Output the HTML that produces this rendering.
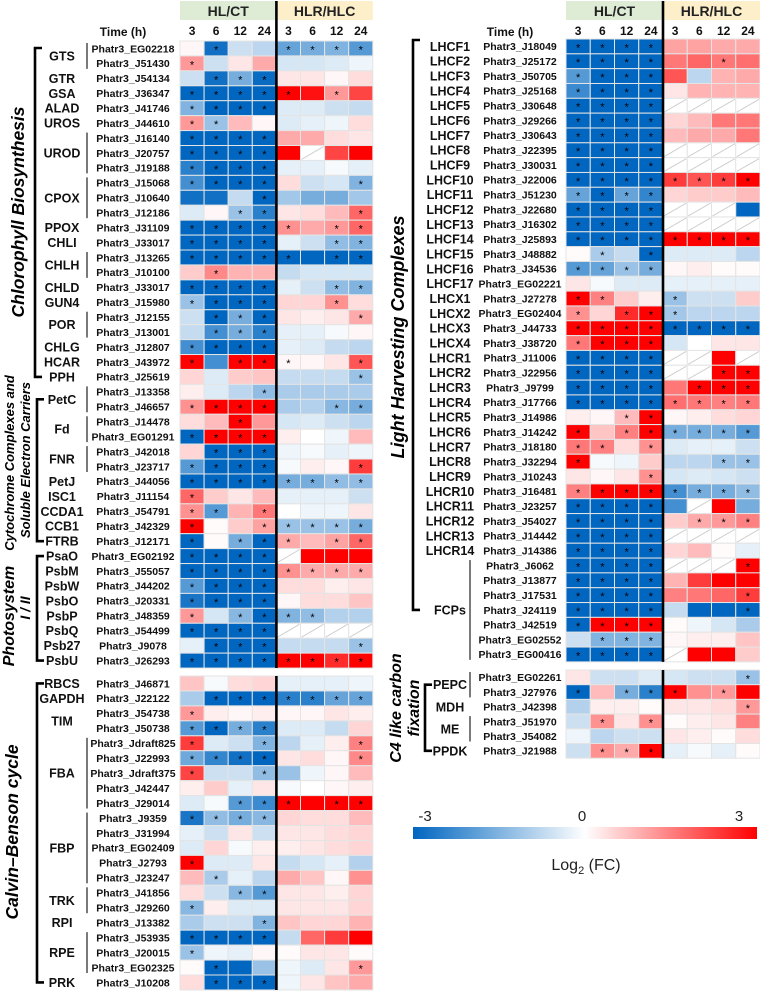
<!DOCTYPE html>
<html><head><meta charset="utf-8"><style>
html,body{margin:0;padding:0;background:#fff;}
svg{display:block;font-family:"Liberation Sans",Arial,sans-serif;}
</style></head><body>
<svg id="chart" width="760" height="991" viewBox="0 0 760 991" xmlns="http://www.w3.org/2000/svg"></svg>
<script>
const timeLabels = ["3","6","12","24"];
const conditionLabels = ["HL/CT","HLR/HLC"];
const leftGenes = ["Phatr3_EG02218","Phatr3_J51430","Phatr3_J54134","Phatr3_J36347","Phatr3_J41746","Phatr3_J44610","Phatr3_J16140","Phatr3_J20757","Phatr3_J19188","Phatr3_J15068","Phatr3_J10640","Phatr3_J12186","Phatr3_J31109","Phatr3_J33017","Phatr3_J13265","Phatr3_J10100","Phatr3_J33017","Phatr3_J15980","Phatr3_J12155","Phatr3_J13001","Phatr3_J12807","Phatr3_J43972","Phatr3_J25619","Phatr3_J13358","Phatr3_J46657","Phatr3_J14478","Phatr3_EG01291","Phatr3_J42018","Phatr3_J23717","Phatr3_J44056","Phatr3_J11154","Phatr3_J54791","Phatr3_J42329","Phatr3_J12171","Phatr3_EG02192","Phatr3_J55057","Phatr3_J44202","Phatr3_J20331","Phatr3_J48359","Phatr3_J54499","Phatr3_J9078","Phatr3_J26293","Phatr3_J46871","Phatr3_J22122","Phatr3_J54738","Phatr3_J50738","Phatr3_Jdraft825","Phatr3_J22993","Phatr3_Jdraft375","Phatr3_J42447","Phatr3_J29014","Phatr3_J9359","Phatr3_J31994","Phatr3_EG02409","Phatr3_J2793","Phatr3_J23247","Phatr3_J41856","Phatr3_J29260","Phatr3_J13382","Phatr3_J53935","Phatr3_J20015","Phatr3_EG02325","Phatr3_J10208"];
const leftValues = [
[0.1,-2.8,-0.6,-0.8,-1.8,-1.6,-1.5,-2.0],[1.2,-0.6,0.3,1.0,-0.5,-0.5,-0.4,-0.2],[-0.6,-2.8,-1.6,-2.9,0.3,0.3,0.1,0.4],[-3,-3,-3,-3,3,2.8,1.2,2.2],
[-1.5,-3,-3,-3,-0.4,-0.4,-0.6,-0.7],[1.2,-1.2,0.8,0.1,-0.4,-0.3,-0.2,0.4],[-3,-3,-3,-3,1.0,1.0,0.4,0.3],[-3,-3,-3,-3,3,null,2.2,3],
[-2.5,-3,-3,-3,-0.3,-0.3,-0.1,-0.3],[-2.2,-3,-3,-3,0.4,-0.6,-0.5,-1.5],[-2.8,-2.8,-0.7,-3,-1.1,-1.6,-1.6,-1.1],[-0.4,0.1,-1.2,-2.5,0.3,0.4,0.8,1.8],
[-3,-3,-3,-3,1.3,1.0,1.2,1.8],[-3,-3,-3,-3,-0.3,-0.6,-1.3,-1.5],[-3,-3,-3,-3,-3,-3,-3,-3],[0.6,1.4,0.9,0.9,-0.7,-0.5,-0.5,-0.5],
[-3,-3,-3,-3,-0.3,-0.6,-1.3,-1.5],[-1.2,-3,-3,-3,0.5,0.5,1.3,0.4],[-0.6,-3,-1.6,-3,0.3,0.2,0.3,1.0],[-0.7,-2.2,-1.6,-2.5,-0.3,-0.3,-0.1,0.1],
[-2.2,-3,-3,-3,-0.3,-0.4,-0.7,-0.8],[3,-2.2,3,3,0.1,0.1,0.3,2.0],[0.5,-0.4,0.6,0.7,-0.7,-0.7,-0.7,-1.2],[0.2,-0.4,-0.8,-1.3,-1.0,-1.0,-1.0,-1.0],
[1.3,3,3,3,-1.0,-0.9,-1.4,-1.6],[0.4,0.8,3,1.2,-0.5,-0.4,-0.6,-0.8],[-3,3,3,3,0.2,0,-0.2,0.8],[0.5,-3,-3,-3,-0.2,-0.1,-0.3,-0.2],
[-2.0,-3,-3,-3,-0.1,0.2,0.1,2.3],[-3,-3,-3,-3,-1.6,-1.6,-1.3,-1.3],[1.8,0.6,0.3,0.8,-0.3,-0.3,-0.3,-0.6],[1.3,-2.0,0.9,1.6,0,-0.2,-0.2,0.3],
[3,0.05,0.6,1.1,-1.2,-1.2,-1.2,-1.6],[-3,0.05,-1.6,-3,1.0,0.8,1.1,1.8],[-3,-3,-3,-3,null,3,3,3],[-3,-3,-3,-3,1.3,1.0,1.0,1.0],
[-2.0,-3,-3,-3,0.4,0.4,0.2,0.3],[-2.7,-3,-3,-3,0.1,0.4,0.4,0.7],[1.2,-0.5,-1.4,-3,-1.5,-1.3,-0.9,-0.9],[-3,-3,-3,-3,null,null,null,null],
[-0.3,-3,-3,-3,-0.7,-0.7,-0.7,-1.2],[-3,-3,-3,-3,3,3,2.5,3],[0.7,-0.1,0.4,0.5,-0.3,-0.3,-0.3,-0.2],[-1.0,-3,-3,-3,-2.5,-2.5,-1.8,-1.8],
[1.2,0.2,0.1,0.2,0.1,0.1,0.3,0.2],[-2.0,-3,-1.6,-2.5,-0.4,-0.4,-0.7,0.5],[2.3,-0.4,-0.6,-1.5,-0.8,-0.3,0.2,1.5],[-1.7,-2.4,-2.8,-3,0.3,0.4,0.1,1.4],
[2.2,-0.6,-0.6,-1.3,-1.2,-0.2,0.1,0.8],[0.2,0.6,-0.3,0.3,-0.1,0,0.1,0.2],[-0.4,-0.1,-2.0,-2.3,3,3,3,3],[-2.7,-1.3,-1.6,-1.4,0.5,0.4,0.4,0.8],
[-0.3,-0.6,0.3,-0.6,0.3,0.3,0.4,0.5],[-0.4,0.5,-0.1,0.2,0.2,0.3,0.4,0.5],[3,-0.4,-0.4,0.3,-0.7,-0.5,-0.3,-0.9],[0.8,-1.0,-0.3,-0.8,1.0,0.7,0.1,1.3],
[0.4,-0.6,-1.4,-2.0,0.3,0.3,0.2,0.5],[-1.4,0.2,-0.4,-0.4,0.3,0.3,0.3,0.5],[-1.0,-0.6,-0.6,-1.5,0.7,0.5,0.5,0.9],[-3,-3,-3,-3,-0.7,1.8,2.3,3],
[-1.2,-0.2,-0.3,0.1,0.05,0.3,0.3,0.05],[0.05,-3,-3,-1.2,-0.2,-0.4,0.3,1.2],[0.4,-3,-3,-3,-0.2,0.3,0.7,1.0]];
const leftSig = ["01001111","10000000","01110000","11111010","11110000","11000000","11110000","11110000","11110000","11110001","00010000","00110001","11111011","11110011","11111011","01000000","11110011","11110010","01110001","01110000","11110000","10111001","00000001","00010000","11110011","00100000","11110000","01110000","11110001","11111111","10000000","11010000","10011111","10111011","11110000","11111111","11110000","11110000","10111100","11110000","01110001","11111111","00000000","01111111","10000000","11110000","10010001","11110001","10010000","00000000","00111011","11110000","00000000","00000000","10000000","01000000","00110000","10000000","00010000","11110000","10000000","01000001","01110000"];
const leftGroups = [["GTS",0,1],["GTR",2,2],["GSA",3,3],["ALAD",4,4],["UROS",5,5],["UROD",6,8],["CPOX",9,11],["PPOX",12,12],["CHLI",13,13],["CHLH",14,15],["CHLD",16,16],["GUN4",17,17],["POR",18,19],["CHLG",20,20],["HCAR",21,21],["PPH",22,22],["PetC",23,24],["Fd",25,26],["FNR",27,28],["PetJ",29,29],["ISC1",30,30],["CCDA1",31,31],["CCB1",32,32],["FTRB",33,33],["PsaO",34,34],["PsbM",35,35],["PsbW",36,36],["PsbO",37,37],["PsbP",38,38],["PsbQ",39,39],["Psb27",40,40],["PsbU",41,41],["RBCS",42,42],["GAPDH",43,43],["TIM",44,45],["FBA",46,50],["FBP",51,55],["TRK",56,57],["RPI",58,58],["RPE",59,61],["PRK",62,62]];

const rightGenes = ["Phatr3_J18049","Phatr3_J25172","Phatr3_J50705","Phatr3_J25168","Phatr3_J30648","Phatr3_J29266","Phatr3_J30643","Phatr3_J22395","Phatr3_J30031","Phatr3_J22006","Phatr3_J51230","Phatr3_J22680","Phatr3_J16302","Phatr3_J25893","Phatr3_J48882","Phatr3_J34536","Phatr3_EG02221","Phatr3_J27278","Phatr3_EG02404","Phatr3_J44733","Phatr3_J38720","Phatr3_J11006","Phatr3_J22956","Phatr3_J9799","Phatr3_J17766","Phatr3_J14986","Phatr3_J14242","Phatr3_J18180","Phatr3_J32294","Phatr3_J10243","Phatr3_J16481","Phatr3_J23257","Phatr3_J54027","Phatr3_J14442","Phatr3_J14386","Phatr3_J6062","Phatr3_J13877","Phatr3_J17531","Phatr3_J24119","Phatr3_J42519","Phatr3_EG02552","Phatr3_EG00416","Phatr3_EG02261","Phatr3_J27976","Phatr3_J42398","Phatr3_J51970","Phatr3_J54082","Phatr3_J21988"];
const rightValues = [
[-3,-3,-3,-3,1.1,1.1,1.0,1.0],[-3,-3,-3,-3,1.6,1.8,1.6,1.7],[-2.0,-3,-3,-3,2.0,-0.8,0.9,1.0],[-2.3,-3,-3,-3,0.3,0.9,0.9,0.9],
[-3,-3,-3,-3,null,null,null,null],[-3,-3,-3,-3,0.5,0.8,1.6,1.6],[-3,-3,-3,-3,0.8,1.0,1.0,1.6],[-3,-3,-3,-3,null,null,null,null],
[-3,-3,-3,-3,null,null,null,null],[-3,-3,-3,-3,2.3,2.0,2.3,3],[-1.8,-3,-1.8,-2.4,0.5,0.6,0.6,0.8],[-3,-3,-3,-3,null,null,null,-3],
[-3,-3,-3,-3,null,null,null,null],[-3,-3,-3,-3,3,3,3,3],[0.05,-1.0,-0.7,-3,-0.4,-0.4,-0.4,-0.8],[-2.0,-1.8,-1.2,-1.6,0.1,0.2,0.05,0.05],
[0.3,-0.1,-0.4,-0.4,-0.3,-0.3,-0.3,-0.3],[3,1.5,0.6,0.2,-1.2,-0.6,-0.6,0.6],[1.3,0.5,2.5,3,-1.1,-0.8,-0.8,-0.8],[3,3,3,3,-3,-3,-3,-3],
[1.6,3,3,3,-0.5,0,0.3,0.3],[-3,-3,-3,-3,null,null,3,null],[-3,-3,-3,-3,null,null,3,3],[-3,-3,-3,-3,1.6,3,3,3],
[-3,-3,-3,-3,1.7,1.6,1.5,1.6],[0.2,0.1,0.8,3,0.1,0.2,0.4,0.5],[3,0.7,1.5,3,-1.6,-1.6,-1.6,-2.0],[1.6,1.5,0.4,1.3,-0.4,-0.3,-0.3,-0.6],
[3,-0.1,-0.2,0.6,-0.8,-0.8,-1.2,-1.2],[0.3,0.1,0.3,1.3,-0.5,-0.4,-0.5,-0.6],[1.5,3,3,3,-2.2,-1.6,-1.6,-1.3],[-3,-3,-3,-3,-2.2,null,3,-1.6],
[-3,-3,-3,-3,0.6,1.0,1.2,1.5],[-3,-3,-3,-3,null,null,null,null],[-3,-3,-3,-3,0.5,0.8,0.05,-0.3],[-3,-3,-3,-3,null,null,null,3],
[-3,-3,-3,-3,0.9,2.3,3,3],[-3,-3,-3,-3,1.5,1.6,1.8,2.3],[-3,-3,-3,-3,-0.7,-3,-3,-3],[-3,3,3,3,0.05,-0.2,-0.5,-1.0],
[-0.6,-1.5,-1.5,-1.5,0.1,0.2,0.2,0.7],[-3,-3,-3,-3,null,3,3,0.6],
[0.3,-0.6,-0.6,-0.4,-0.5,-0.6,-0.6,-1.2],[-3,0.8,-1.6,-2.5,3,1.3,1.2,3],[-0.9,0.2,0.2,0.05,0.3,0.3,0.4,1.2],[-0.6,1.3,0.3,1.3,0.05,0.2,0.3,1.5],[-0.2,-0.8,-0.6,-0.6,0.3,0.2,0.05,0.4],[-0.6,1.3,1.0,3,-0.3,-0.1,-0.3,0.05]];
const rightSig = ["11110000","11110010","11110000","11110000","11110000","11110000","11110000","11110000","11110000","11111111","11110000","11110000","11110000","11111111","01010000","11110000","00000000","11001000","10111000","11111111","11110000","11110000","11110011","11110111","11111111","00110000","10111111","11010000","10000011","00010000","11111111","11110000","11110111","11110000","11110000","11110001","11110000","11110001","11110001","11110000","01110000","11110000","00000001","10111010","00000001","01010000","00000000","01110000"];
const rightGroups = [["LHCF1",0,0],["LHCF2",1,1],["LHCF3",2,2],["LHCF4",3,3],["LHCF5",4,4],["LHCF6",5,5],["LHCF7",6,6],["LHCF8",7,7],["LHCF9",8,8],["LHCF10",9,9],["LHCF11",10,10],["LHCF12",11,11],["LHCF13",12,12],["LHCF14",13,13],["LHCF15",14,14],["LHCF16",15,15],["LHCF17",16,16],["LHCX1",17,17],["LHCX2",18,18],["LHCX3",19,19],["LHCX4",20,20],["LHCR1",21,21],["LHCR2",22,22],["LHCR3",23,23],["LHCR4",24,24],["LHCR5",25,25],["LHCR6",26,26],["LHCR7",27,27],["LHCR8",28,28],["LHCR9",29,29],["LHCR10",30,30],["LHCR11",31,31],["LHCR12",32,32],["LHCR13",33,33],["LHCR14",34,34],["FCPs",35,41],["PEPC",42,43],["MDH",44,44],["ME",45,46],["PPDK",47,47]];
const legendTicks = [-3,0,3];

const NS="http://www.w3.org/2000/svg";
const svg=document.getElementById("chart");
function mk(tag,attrs,parent){const e=document.createElementNS(NS,tag);for(const k in attrs)e.setAttribute(k,attrs[k]);(parent||svg).appendChild(e);return e;}
function color(v){
  const t=Math.min(Math.abs(v),3)/3;
  if(v<0){return `rgb(${Math.round(255-255*t)},${Math.round(255-153*t)},${Math.round(255-63*t)})`;}
  return `rgb(255,${Math.round(255-255*t)},${Math.round(255-255*t)})`;
}
const L={x0:180,cw:24.1,y0:41,h:14.93,y1:676,h1:14.95,split:42,gene:133,grp:62,line:87};
const R={x0:566,cw:24.25,y0:39,h:14.83,y1:670,h1:14.7,split:42,gene:520,grp:450,line:470};
function rowY(P,i){return i<P.split?P.y0+i*P.h:P.y1+(i-P.split)*P.h1;}
function rowH(P,i){return i<P.split?P.h:P.h1;}
function colX(P,j){return P.x0+j*P.cw;}

function drawPanel(P,genes,values,sig,groups,side){
  const g=mk("g",{});
  
  
  const hb1=mk("rect",{x:colX(P,0),y:1,width:P.cw*4,height:19,fill:"#deecd6"},g);
  
  
  const hb2=mk("rect",{x:colX(P,4),y:1,width:P.cw*4,height:19,fill:"#fdefc9"},g);
  
  
  conditionLabels.forEach((c,k)=>{
    const t=mk("text",{x:colX(P,k*4)+P.cw*2,y:16,"text-anchor":"middle","font-size":"14","font-weight":"bold",fill:"#222"},g);
    t.textContent=c;
    
    
  });
  for(let j=0;j<8;j++){
    const t=mk("text",{x:colX(P,j)+P.cw/2,y:35,"text-anchor":"middle","font-size":"12","font-weight":"bold",fill:"#111"},g);
    t.textContent=timeLabels[j%4];
    
    
  }
  const th=mk("text",{x:P.gene-10,y:36,"text-anchor":"middle","font-size":"12","font-weight":"bold",fill:"#111"},g);
  th.textContent="Time (h)";
  
  
  genes.forEach((gn,i)=>{
    const y=rowY(P,i),h=rowH(P,i);
    const t=mk("text",{x:P.gene,y:y+h/2+3.8,"text-anchor":"middle","font-size":"10.5","font-weight":"bold",fill:"#111"},g);
    t.textContent=gn;
    
    
    for(let j=0;j<8;j++){
      const v=values[i][j];const x=colX(P,j);
      const r=mk("rect",{x:x,y:y,width:P.cw,height:h,fill:v===null?"#ffffff":color(v),stroke:"#e4e4e4","stroke-width":"1"},g);
      
      
      if(v===null){
        const d=mk("line",{x1:x+1,y1:y+h-1,x2:x+P.cw-1,y2:y+1,stroke:"#cfcfcf","stroke-width":"1"},g);
        
        
      }
      if(sig[i][j]==="1"){
        const s=mk("text",{x:x+P.cw/2,y:y+h/2+5,"text-anchor":"middle","font-size":"11",fill:"#000"},g);
        s.textContent="*";
        
        
      }
    }
  });
  const last=genes.length-1;
  const d1=mk("line",{x1:colX(P,4),y1:1,x2:colX(P,4),y2:rowY(P,P.split-1)+P.h,stroke:"#000","stroke-width":"2.6"},g);
  
  
  const d2=mk("line",{x1:colX(P,4),y1:P.y1,x2:colX(P,4),y2:rowY(P,last)+P.h1,stroke:"#000","stroke-width":"2.6"},g);
  
  
  groups.forEach(gr=>{
    const [lab,a,b]=gr;
    const yc=(rowY(P,a)+rowY(P,b)+rowH(P,b))/2;
    const t=mk("text",{x:P.grp,y:yc+4.5,"text-anchor":"middle","font-size":"12.5","font-weight":"bold",fill:"#111"},g);
    t.textContent=lab;
    
    
    if(b>a && lab!=="TIM"){
      const ln=mk("line",{x1:P.line,y1:rowY(P,a)+2,x2:P.line,y2:rowY(P,b)+rowH(P,b)-2,stroke:"#333","stroke-width":"1.3"},g);
      
      
    }
  });
}
drawPanel(L,leftGenes,leftValues,leftSig,leftGroups,"left");
drawPanel(R,rightGenes,rightValues,rightSig,rightGroups,"right");

function center(P,groups,idx){const gr=groups[idx];return (rowY(P,gr[1])+rowY(P,gr[2])+rowH(P,gr[2]))/2;}
function bracket(x,y1,y2,name){
  const p=mk("path",{d:`M${x+7},${y1} H${x} V${y2} H${x+7}`,fill:"none",stroke:"#000","stroke-width":"2.6"});
  
  
}
function vlabel(x,y,txt,size,name){
  const t=mk("text",{x:0,y:0,transform:`translate(${x},${y}) rotate(-90)`,"text-anchor":"middle","font-size":size,"font-weight":"bold","font-style":"italic",fill:"#000"});
  t.textContent=txt;
  
  
  return t;
}
bracket(35,48,center(L,leftGroups,15),"chlorophyll-bracket");
bracket(37,center(L,leftGroups,16),center(L,leftGroups,23),"electron-carrier-bracket");
bracket(37,center(L,leftGroups,24),center(L,leftGroups,31),"photosystem-bracket");
bracket(37,center(L,leftGroups,32),center(L,leftGroups,40),"calvin-bracket");
bracket(413,40,center(R,rightGroups,35),"light-harvesting-bracket");
bracket(425,center(R,rightGroups,36),center(R,rightGroups,39),"c4-bracket");

vlabel(24,212,"Chlorophyll Biosynthesis",17.5,"chlorophyll-biosynthesis-title");
vlabel(14,463,"Cytochrome Complexes and",13,"cytochrome-title-line1");
vlabel(30,460,"Soluble Electron Carriers",13,"cytochrome-title-line2");
vlabel(14,616,"Photosystem",16,"photosystem-title-line1");
vlabel(30,608,"I / II",14,"photosystem-title-line2");
vlabel(18,832,"Calvin\u2013Benson cycle",17.5,"calvin-benson-title");
vlabel(404,337,"Light Harvesting Complexes",18,"light-harvesting-title");
vlabel(401,708,"C4 like carbon",16,"c4-title-line1");
vlabel(419,708,"fixation",16,"c4-title-line2");

const defs=mk("defs",{});
const grad=mk("linearGradient",{id:"lg",x1:"0",x2:"1",y1:"0",y2:"0"},defs);
mk("stop",{offset:"0","stop-color":color(-3)},grad);
mk("stop",{offset:"0.5","stop-color":"#ffffff"},grad);
mk("stop",{offset:"1","stop-color":color(3)},grad);
const LG={x:413,w:344,y:827,h:12};
const cb=mk("rect",{x:LG.x,y:LG.y,width:LG.w,height:LG.h,fill:"url(#lg)"});


legendTicks.forEach(v=>{
  const x=LG.x+12+(v+3)/6*(LG.w-30);
  const t=mk("text",{x:x,y:821,"text-anchor":"middle","font-size":"15",fill:"#222"});
  t.textContent=String(v);
  
  
});
const lt=mk("text",{x:586,y:870,"text-anchor":"middle","font-size":"16",fill:"#222"});


lt.appendChild(document.createTextNode("Log"));
const sub=mk("tspan",{"font-size":"11",dy:"4"},lt);sub.textContent="2";
const rest=mk("tspan",{dy:"-4"},lt);rest.textContent=" (FC)";
</script>
</body></html>
